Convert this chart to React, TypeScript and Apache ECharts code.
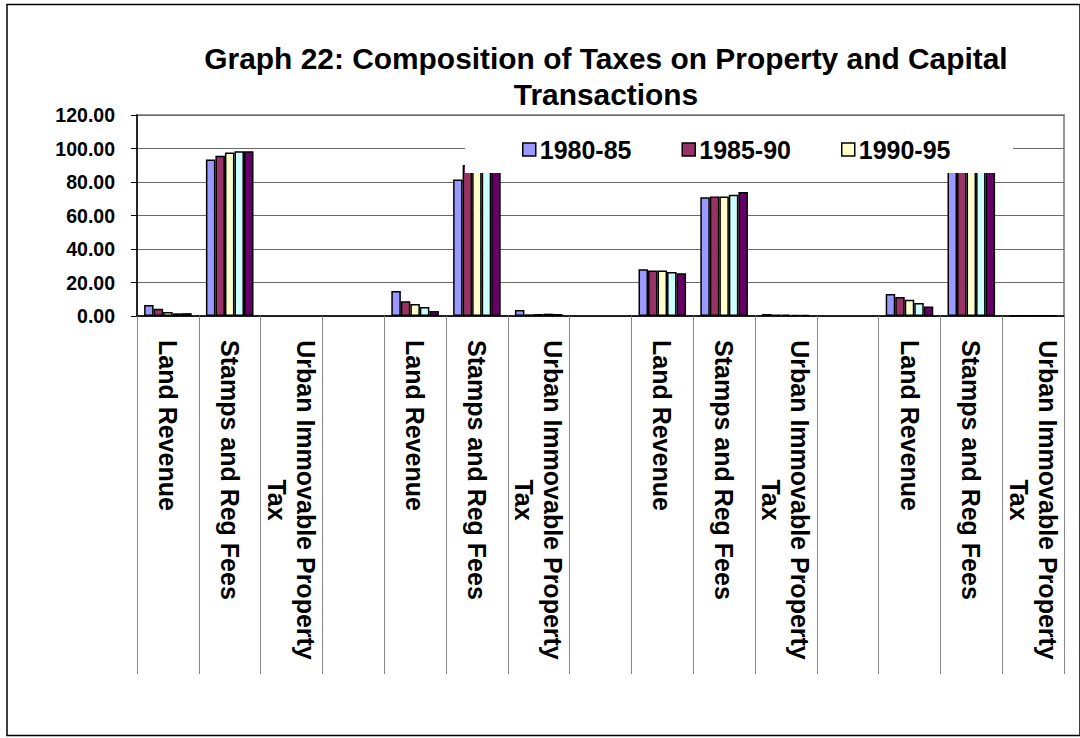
import React, { useEffect, useRef } from "react";
import * as echarts from "echarts";

const categories = [
  "Land Revenue", "Stamps and Reg Fees", "Urban Immovable Property Tax", "",
  "Land Revenue", "Stamps and Reg Fees", "Urban Immovable Property Tax", "",
  "Land Revenue", "Stamps and Reg Fees", "Urban Immovable Property Tax", "",
  "Land Revenue", "Stamps and Reg Fees", "Urban Immovable Property Tax",
];

const seriesNames = ["1980-85", "1985-90", "1990-95", "1995-00", "2000-05"];
const legendNames = ["1980-85", "1985-90", "1990-95"];

const s1980 = [6.6, 93.4, null, null, 14.9, 81.5, 3.6, null, 27.9, 70.9, 1.2, null, 13.1, 86.7, 0.2];
const s1985 = [4.4, 95.6, null, null, 8.8, 90.2, 1.0, null, 27.1, 71.4, 0.9, null, 11.3, 88.5, 0.2];
const s1990 = [2.4, 97.6, null, null, 7.2, 91.6, 1.2, null, 27.1, 71.4, 0.8, null, 9.7, 90.1, 0.2];
const s1995 = [1.6, 98.4, null, null, 5.4, 93.2, 1.4, null, 26.3, 72.4, 0.7, null, 7.8, 92.0, 0.2];
const s2000 = [1.7, 98.3, null, null, 3.0, 95.8, 1.2, null, 25.5, 74.0, 0.5, null, 5.6, 94.2, 0.2];

const yTicks = { min: 0, max: 120, interval: 20 };
const colors = ["#9999FF", "#993366", "#FFFFCC", "#CCFFFF", "#660066"];

const FONT = "'Liberation Sans', Arial, sans-serif";

export default function App() {
  const ref = useRef<HTMLDivElement>(null);
  useEffect(() => {
    if (!ref.current) return;
    const chart = echarts.init(ref.current, null, { renderer: "svg" });
    const allData = [s1980, s1985, s1990, s1995, s2000];
    chart.setOption({
      animation: false,
      backgroundColor: "#fff",
      textStyle: { fontFamily: FONT },
      title: {
        text: "Graph 22: Composition of Taxes on Property and Capital\nTransactions",
        left: 601,
        top: 35,
        textAlign: "center",
        textStyle: { fontSize: 29.9, fontWeight: "bold", color: "#000", lineHeight: 36, fontFamily: FONT },
      },
      legend: {
        data: legendNames,
        left: 522,
        top: 137,
        z: 60,
        icon: "rect",
        itemWidth: 13,
        itemHeight: 13,
        itemGap: 50,
        padding: 0,
        itemStyle: { borderColor: "#000", borderWidth: 1.5 },
        textStyle: { fontSize: 25, fontWeight: "bold", color: "#000", fontFamily: FONT, padding: [0, 0, 0, -1] },
      },
      grid: {
        left: 137,
        top: 115,
        right: 16,
        bottom: 422,
        show: true,
        borderColor: "#999",
        borderWidth: 2,
        backgroundColor: "transparent",
      },
      xAxis: {
        type: "category",
        data: categories,
        axisLine: { lineStyle: { color: "#000", width: 1.5 } },
        axisTick: { show: true, length: 358, interval: 0, lineStyle: { color: "#888", width: 1 } },
        axisLabel: {
          interval: 0,
          rotate: -90,
          margin: 24,
          fontSize: 25,
          fontWeight: "bold",
          color: "#000",
          fontFamily: FONT,
          lineHeight: 29,
          formatter: (v: string) => {
            if (v.endsWith(" Tax")) {
              const a = v.slice(0, v.length - 4);
              return `{c|${a}}\n{c|Tax}`;
            }
            return v;
          },
          rich: {
            c: { width: 320, align: "center", fontSize: 25, fontWeight: "bold", color: "#000", fontFamily: FONT, lineHeight: 29 },
          },
        },
      },
      yAxis: {
        type: "value",
        min: yTicks.min,
        max: yTicks.max,
        interval: yTicks.interval,
        axisLine: { show: true, lineStyle: { color: "#000", width: 1.5 } },
        axisTick: { show: true, length: 6, lineStyle: { color: "#000" } },
        axisLabel: {
          formatter: (v: number) => v.toFixed(2),
          fontSize: 19.5,
          fontWeight: "bold",
          color: "#000",
          margin: 22,
          fontFamily: FONT,
        },
        splitLine: { lineStyle: { color: "#6a6a6a", width: 1 } },
      },
      graphic: [
        {
          type: "rect",
          z: 50,
          shape: { x: 465, y: 125, width: 548, height: 48 },
          style: { fill: "#fff" },
        },
        {
          type: "rect",
          z: 100,
          shape: { x: 7, y: 4.5, width: 1073, height: 731 },
          style: { fill: "none", stroke: "#000", lineWidth: 1.5 },
        },
      ],
      series: seriesNames.map((name, i) => ({
        name,
        type: "bar",
        data: allData[i],
        barGap: "0%",
        barCategoryGap: "23%",
        itemStyle: { color: colors[i], borderColor: "#000", borderWidth: 1.5 },
      })),
    });
    return () => chart.dispose();
  }, []);
  return (
    <div
      ref={ref}
      style={{ position: "fixed", left: 0, top: 0, width: 1080, height: 738 }}
    />
  );
}
